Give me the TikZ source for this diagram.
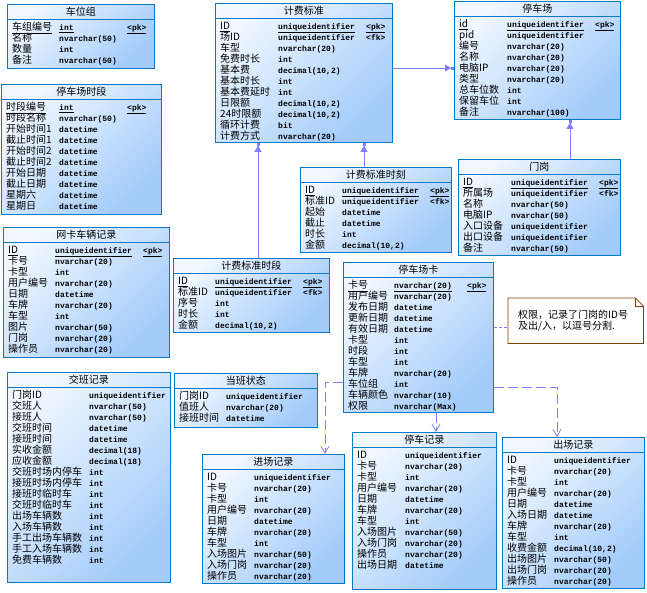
\documentclass[tikz,border=0pt]{standalone}
\usepackage{fontspec}
\setmonofont{Liberation Mono}
\newfontfamily\cjk{Noto Sans CJK SC}
\usetikzlibrary{arrows.meta}
\definecolor{erlight}{RGB}{240,247,255}
\definecolor{erdark}{RGB}{162,203,250}
\definecolor{erblue}{RGB}{0,122,196}
\definecolor{reflink}{RGB}{128,128,255}
\definecolor{notebrown}{RGB}{128,64,0}
\tikzset{
    x=1pt, y=-1pt,
    ertbl/.style={draw=erblue, line width=.8pt, anchor=north west, inner sep=0pt,
        top color=erlight, bottom color=erdark, shading angle=45},
    ertitle/.style={anchor=base, inner sep=0pt, font=\cjk\fontsize{10}{11}\selectfont},
    ername/.style={anchor=base west, inner sep=0pt, font=\cjk\fontsize{10}{11}\selectfont},
    ertype/.style={anchor=base west, inner sep=0pt,
        font=\ttfamily\bfseries\fontsize{8}{11}\selectfont},
    refline/.style={reflink, line width=.8pt,
        -{Triangle[length=6pt,width=7pt]Rectangle[length=3pt,width=3pt]}},
    depline/.style={reflink, line width=.8pt, dash pattern=on 10pt off 4pt,
        -{Straight Barb[length=7pt,width=8pt]}},
    notelink/.style={reflink, line width=.8pt, dash pattern=on 3pt off 2pt},
}
\newcommand{\pk}[1]{\underline{#1}}
% #1 name, #2/#3 top left, #4/#5 size, #6 title, #7/#8 column offsets, #9 rows
\newcommand{\ertable}[9]{%
    \node[ertbl, minimum width=#4pt, minimum height=#5pt] (#1) at (#2,#3) {};
    \draw[erblue, line width=.8pt] ([yshift=-15pt]#1.north west) --
        ([yshift=-15pt]#1.north east);
    \node[ertitle] (#1title) at ([yshift=-11.5pt]#1.north) {#6};
    \foreach \n/\t/\k [count=\i] in {#9} {
        \node[ername] (#1n\i) at ([xshift=5pt, yshift={(-15.5-11*\i)*1pt}]#1.north west) {\n};
        \node[ertype] (#1t\i) at ([xshift=#7pt, yshift={(-15.5-11*\i)*1pt}]#1.north west) {\t};
        \node[ertype] (#1k\i) at ([xshift=#8pt, yshift={(-15.5-11*\i)*1pt}]#1.north west) {\k};
    }%
}

\begin{document}
\begin{tikzpicture}
    \useasboundingbox (0,0) rectangle (647,592);
    \ertable{cwz}{7}{4}{147}{64}{车位组}{52}{120}{
        \pk{车组编号}/\pk{int}/\pk{<pk>}, 名称/nvarchar(50)/{}, 数量/int/{},
        备注/nvarchar(50)/{}}
    \ertable{tcsd}{1}{84}{160}{130}{停车场时段}{58}{126}{
        \pk{时段编号}/\pk{int}/\pk{<pk>}, 时段名称/nvarchar(50)/{},
        开始时间1/datetime/{}, 截止时间1/datetime/{}, 开始时间2/datetime/{},
        截止时间2/datetime/{}, 开始日期/datetime/{}, 截止日期/datetime/{},
        星期六/datetime/{}, 星期日/datetime/{}}
    \ertable{jfbz}{215}{3}{177}{139}{计费标准}{63}{151}{
        \pk{ID}/\pk{uniqueidentifier}/\pk{<pk>}, 场ID/uniqueidentifier/<fk>,
        车型/nvarchar(20)/{}, 免费时长/int/{}, 基本费/{decimal(10,2)}/{},
        基本时长/int/{}, 基本费延时/int/{}, 日限额/{decimal(10,2)}/{},
        24时限额/{decimal(10,2)}/{}, 循环计费/bit/{}, 计费方式/nvarchar(20)/{}}
    \ertable{tcc}{454}{1}{166}{118}{停车场}{53}{141}{
        \pk{id}/\pk{uniqueidentifier}/\pk{<pk>}, pid/uniqueidentifier/{},
        编号/nvarchar(20)/{}, 名称/nvarchar(20)/{}, 电脑IP/nvarchar(20)/{},
        类型/nvarchar(20)/{}, 总车位数/int/{}, 保留车位/int/{},
        备注/nvarchar(100)/{}}
    \ertable{mg}{458}{159}{162}{96}{门岗}{53}{141}{
        \pk{ID}/\pk{uniqueidentifier}/\pk{<pk>}, 所属场/uniqueidentifier/<fk>,
        名称/nvarchar(50)/{}, 电脑IP/nvarchar(50)/{}, 入口设备/uniqueidentifier/{},
        出口设备/uniqueidentifier/{}, 备注/nvarchar(50)/{}}
    \ertable{wkcl}{3}{227}{166}{130}{网卡车辆记录}{52}{140}{
        \pk{ID}/\pk{uniqueidentifier}/\pk{<pk>}, 卡号/nvarchar(20)/{}, 卡型/int/{},
        用户编号/nvarchar(20)/{}, 日期/datetime/{}, 车牌/nvarchar(20)/{},
        车型/int/{}, 图片/nvarchar(50)/{}, 门岗/nvarchar(20)/{},
        操作员/nvarchar(20)/{}}
    \ertable{jfsk}{300}{167}{151}{85}{计费标准时刻}{42}{130}{
        \pk{ID}/\pk{uniqueidentifier}/\pk{<pk>}, 标准ID/uniqueidentifier/<fk>,
        起始/datetime/{}, 截止/datetime/{}, 时长/int/{}, 金额/{decimal(10,2)}/{}}
    \ertable{jfsd}{173}{258}{156}{74}{计费标准时段}{42}{130}{
        \pk{ID}/\pk{uniqueidentifier}/\pk{<pk>}, 标准ID/uniqueidentifier/<fk>,
        序号/int/{}, 时长/int/{}, 金额/{decimal(10,2)}/{}}
    \ertable{tck}{343}{262}{150}{150}{停车场卡}{51}{124}{
        \pk{卡号}/\pk{nvarchar(20)}/\pk{<pk>}, 用户编号/nvarchar(20)/{},
        发布日期/datetime/{}, 更新日期/datetime/{}, 有效日期/datetime/{},
        卡型/int/{}, 时段/int/{}, 车型/int/{}, 车牌/nvarchar(20)/{},
        车位组/int/{}, 车辆颜色/nvarchar(10)/{}, 权限/nvarchar(Max)/{}}
    \ertable{jbjl}{7}{372}{163}{210}{交班记录}{82}{0}{
        门岗ID/uniqueidentifier/{}, 交班人/nvarchar(50)/{}, 接班人/nvarchar(50)/{},
        交班时间/datetime/{}, 接班时间/datetime/{}, 实收金额/decimal(18)/{},
        应收金额/decimal(18)/{}, 交班时场内停车/int/{}, 接班时场内停车/int/{},
        接班时临时车/int/{}, 交班时临时车/int/{}, 出场车辆数/int/{},
        入场车辆数/int/{}, 手工出场车辆数/int/{}, 手工入场车辆数/int/{},
        免费车辆数/int/{}}
    \ertable{dbzt}{174}{373}{143}{54}{当班状态}{52}{0}{
        门岗ID/uniqueidentifier/{}, 值班人/nvarchar(20)/{}, 接班时间/datetime/{}}
    \ertable{jcjl}{202}{454}{142}{129}{进场记录}{52}{0}{
        ID/uniqueidentifier/{}, 卡号/nvarchar(20)/{}, 卡型/int/{},
        用户编号/nvarchar(20)/{}, 日期/datetime/{}, 车牌/nvarchar(20)/{},
        车型/int/{}, 入场图片/nvarchar(50)/{}, 入场门岗/nvarchar(20)/{},
        操作员/nvarchar(20)/{}}
    \ertable{tcjl}{352}{432}{144}{157}{停车记录}{53}{0}{
        ID/uniqueidentifier/{}, 卡号/nvarchar(20)/{}, 卡型/int/{},
        用户编号/nvarchar(20)/{}, 日期/datetime/{}, 车牌/nvarchar(20)/{},
        车型/int/{}, 入场图片/nvarchar(50)/{}, 入场门岗/nvarchar(20)/{},
        操作员/nvarchar(20)/{}, 出场日期/datetime/{}}
    \ertable{ccjl}{502}{437}{142}{151}{出场记录}{52}{0}{
        ID/uniqueidentifier/{}, 卡号/nvarchar(20)/{}, 卡型/int/{},
        用户编号/nvarchar(20)/{}, 日期/datetime/{}, 入场日期/datetime/{},
        车牌/nvarchar(20)/{}, 车型/int/{}, 收费金额/{decimal(10,2)}/{},
        出场图片/nvarchar(50)/{}, 出场门岗/nvarchar(20)/{}, 操作员/nvarchar(20)/{}}
    % note
    \node[anchor=north west, minimum width=135pt, minimum height=45pt,
        inner sep=0pt] (note) at (508,298) {};
    \draw[notebrown, line width=.8pt, fill=white] (note.north west) --
        ([xshift=-8pt]note.north east) -- ([yshift=-8pt]note.north east) --
        (note.south east) -- (note.south west) -- cycle;
    \draw[notebrown, line width=.6pt] ([xshift=-8pt]note.north east) |-
        ([yshift=-8pt]note.north east);
    \node[ername, anchor=west, align=left] (notetext) at
        ([xshift=10pt, yshift=-22.5pt]note.north west)
        {权限，记录了门岗的ID号\\及出/入，以逗号分割.};
    % references
    \draw[refline] (jfbz.east |- 0,68) -- (tcc.west |- 0,68);
    \draw[refline] (mg.north -| 570,0) -- (tcc.south -| 570,0);
    \draw[refline] (jfsd.north -| 258,0) -- (jfbz.south -| 258,0);
    \draw[refline] (jfsk.north -| 364,0) -- (jfbz.south -| 364,0);
    \draw[depline] (tck.west |- 0,382) -| (jcjl.north -| 325,0);
    \draw[depline] (tck.south -| 436,0) -- (tcjl.north -| 436,0);
    \draw[depline] (tck.east |- 0,387) -| (ccjl.north -| 557,0);
    \draw[notelink] (tck.east |- 0,327) -- (note.west |- 0,327);
\end{tikzpicture}
\end{document}
